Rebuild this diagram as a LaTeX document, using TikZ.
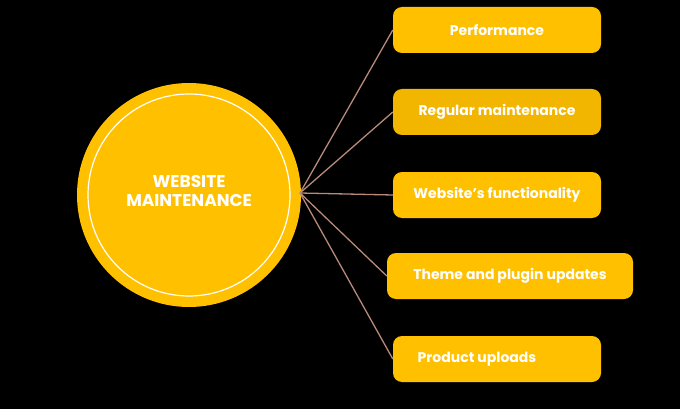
\documentclass[tikz,border=0pt]{standalone}
\usepackage{fontspec}
\setmainfont{Poppins}[BoldFont={* Bold}]
\definecolor{gold}{HTML}{FFC000}
\definecolor{gold2}{HTML}{F2B600}
\definecolor{link}{HTML}{B88A78}
\begin{document}
\begin{tikzpicture}[x=1pt,y=-1pt,
  box/.style={draw=none,fill=gold,rounded corners=9pt,minimum height=46pt,text=white,font=\bfseries\fontsize{14}{16}\selectfont,inner sep=0pt},
  conn/.style={draw=link,line width=1.3pt}]
\fill[black] (0,0) rectangle (680,409);
\useasboundingbox (0,0) rectangle (680,409);
\node[circle,fill=gold,minimum size=224pt,inner sep=0pt] (c) at (189,195) {};
\draw[white,line width=1.2pt] (c.center) circle (101pt);
\node[text=white,align=center,font=\bfseries\fontsize{17}{19}\selectfont] (t) at (189,191) {WEBSITE\\MAINTENANCE};
\coordinate (h) at (300,193);
\node[box,minimum width=208pt] (b1) at (497,30) {Performance};
\node[box,fill=gold2,minimum width=208pt] (b2) at (497,112) {Regular maintenance};
\node[box,minimum width=208pt] (b3) at (497,195) {Website's functionality};
\node[box,minimum width=246pt] (b4) at (510,276) {Theme and plugin updates};
\node[box,minimum width=208pt] (b5) at (497,359) {\hspace*{-40pt}Product uploads};
\draw[conn] (h) -- (b1.west);
\draw[conn] (h) -- (b2.west);
\draw[conn] (h) -- (b3.west);
\draw[conn] (h) -- (b4.west);
\draw[conn] (h) -- (b5.west);
\end{tikzpicture}
\end{document}
